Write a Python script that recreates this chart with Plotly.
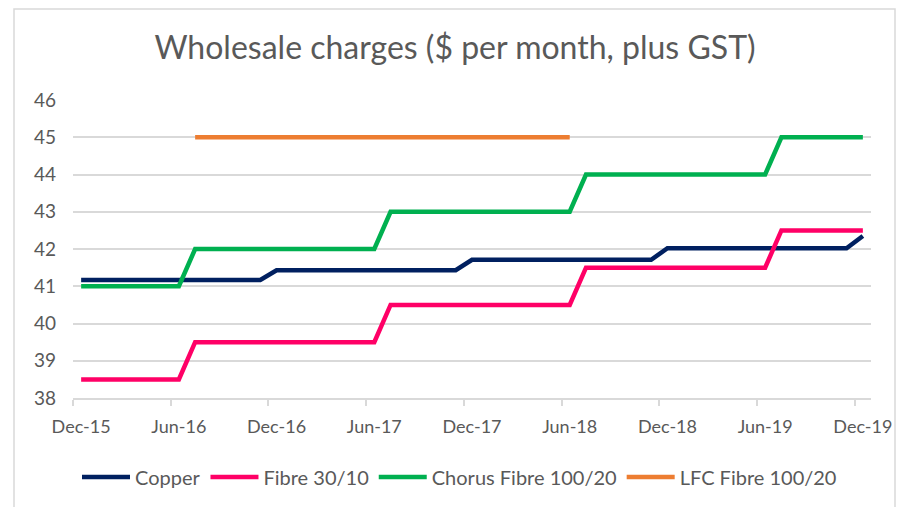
import pandas as pd
import plotly.graph_objects as go

months = [d.strftime("%b-%y") for d in pd.date_range("2015-12-01", "2019-12-01", freq="MS")]

copper = [41.17]*12 + [41.43]*12 + [41.71]*12 + [42.02]*12 + [42.35]
fibre_30_10 = [38.5]*7 + [39.5]*12 + [40.5]*12 + [41.5]*12 + [42.5]*6
chorus_100_20 = [41]*7 + [42]*12 + [43]*12 + [44]*12 + [45]*6
lfc_100_20 = [None]*7 + [45]*24 + [None]*18

series = [
    ("Copper", copper, "#002060"),
    ("Fibre 30/10", fibre_30_10, "#ff0066"),
    ("Chorus Fibre 100/20", chorus_100_20, "#00b050"),
    ("LFC Fibre 100/20", lfc_100_20, "#ed7d31"),
]

FONT = "Lato"
GREY = "#595959"
GRID = "#d9d9d9"

fig = go.Figure()
for name, vals, col in series:
    fig.add_trace(go.Scatter(x=months, y=vals, name=name, mode="lines",
                             line=dict(color=col, width=4.5), connectgaps=False))

W, H = 897, 507
L, R, T, B = 73, 871, 100, 398
fig.update_layout(
    width=W, height=H,
    margin=dict(l=L, r=W - R, t=T, b=H - B, autoexpand=False),
    paper_bgcolor="white", plot_bgcolor="white",
    font=dict(family=FONT, color=GREY, size=19),
    title=dict(text="Wholesale charges ($ per month, plus GST)", x=455 / W, xanchor="center",
               y=1 - 48 / H, yanchor="middle", yref="container",
               font=dict(family=FONT, size=32, color=GREY)),
    xaxis=dict(type="category", range=[-0.5, 48.5], tickson="boundaries", tickmode="linear",
               tick0=0, dtick=6, ticks="outside", ticklen=6, tickcolor=GRID, tickwidth=1.5,
               showline=True, linecolor=GRID, linewidth=1.5, showgrid=False, tickangle=0,
               automargin=False, ticklabeloverflow="allow",
               tickfont=dict(size=18, color=GREY), ticklabelstandoff=12),
    yaxis=dict(range=[38, 46], dtick=1, showgrid=True, gridcolor=GRID, gridwidth=1.5,
               zeroline=False, showline=False, ticks="", ticklabelstandoff=16, automargin=False,
               tickfont=dict(size=19, color=GREY)),
    legend=dict(orientation="h", x=(459.5 - L) / (R - L), xanchor="center",
                y=(B - 477) / (B - T), yanchor="middle",
                font=dict(size=20, color=GREY), itemwidth=48, tracegroupgap=0,
                bgcolor="rgba(0,0,0,0)"),
    shapes=[dict(type="rect", xref="paper", yref="paper",
                 x0=(14 - L) / (R - L), x1=(895 - L) / (R - L),
                 y0=(B - 530) / (B - T), y1=(B - 9) / (B - T),
                 line=dict(color=GRID, width=1.5), fillcolor="rgba(0,0,0,0)", layer="below")],
)

fig.write_html("out.html", config={"displayModeBar": False},
               post_script="document.body.style.margin='0';document.body.style.overflow='hidden';")
